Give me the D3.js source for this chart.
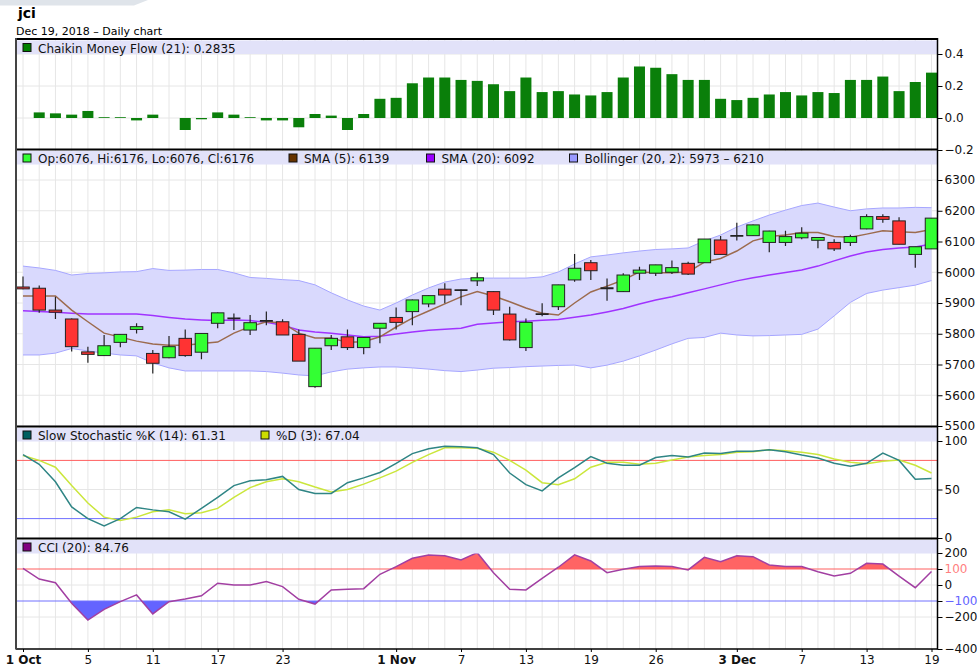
<!DOCTYPE html>
<html>
<head>
<meta charset="utf-8">
<script src="https://cdn.jsdelivr.net/npm/d3@7"></script>
<style>
  body { margin: 0; background: #fff; }
  svg { display: block; font-family: 'DejaVu Sans', sans-serif; }
</style>
</head>
<body>
<script>
// ---- data ----
const dates = ['2018-10-01','2018-10-02','2018-10-03','2018-10-04','2018-10-05','2018-10-08','2018-10-09','2018-10-10','2018-10-11','2018-10-12',
  '2018-10-15','2018-10-16','2018-10-17','2018-10-18','2018-10-19','2018-10-22','2018-10-23','2018-10-24','2018-10-25','2018-10-26',
  '2018-10-29','2018-10-30','2018-10-31','2018-11-01','2018-11-02','2018-11-05','2018-11-06','2018-11-07','2018-11-08','2018-11-09',
  '2018-11-12','2018-11-13','2018-11-14','2018-11-15','2018-11-16','2018-11-19','2018-11-21','2018-11-22','2018-11-23','2018-11-26',
  '2018-11-27','2018-11-28','2018-11-29','2018-11-30','2018-12-03','2018-12-04','2018-12-05','2018-12-06','2018-12-07','2018-12-10',
  '2018-12-11','2018-12-12','2018-12-13','2018-12-14','2018-12-17','2018-12-18','2018-12-19']

const open = [5952,5948,5877,5848,5741,5729,5772,5814,5736,5722,5785,5740,5834,5850,5812,5842,5839,5798,5628,5761,
  5790,5755,5818,5853,5872,5897,5945,5942,5972,5937,5864,5755,5864,5888,5975,6031,5948,5937,5997,5997,
  6000,6029,6031,6105,6118,6119,6097,6097,6112,6104,6097,6097,6141,6181,6167,6058,6076]
const high = [5986,5957,5920,5850,5758,5796,5798,5834,5747,5793,5814,5801,5869,5866,5861,5872,5847,5814,5753,5796,
  5814,5789,5835,5885,5911,5925,5964,5944,5999,5938,5888,5850,5899,5959,6059,6040,5980,5997,6018,6024,
  6038,6034,6108,6118,6161,6155,6135,6135,6146,6114,6107,6122,6189,6189,6179,6083,6176]
const low = [5945,5868,5848,5742,5706,5728,5756,5801,5671,5720,5725,5717,5818,5812,5796,5828,5796,5711,5624,5747,
  5747,5733,5769,5814,5828,5886,5899,5893,5955,5861,5778,5744,5857,5877,5969,5975,5907,5936,5975,5988,
  5994,5991,6030,6057,6103,6118,6065,6085,6107,6078,6069,6085,6140,6161,6091,6015,6076]
const close = [5946,5877,5870,5758,5733,5761,5798,5823,5704,5758,5729,5801,5868,5850,5836,5842,5796,5711,5753,5785,
  5755,5788,5834,5837,5910,5924,5926,5942,5982,5877,5780,5837,5864,5959,6013,6005,5948,5991,6007,6024,
  6015,5994,6108,6058,6118,6154,6134,6116,6127,6113,6076,6116,6181,6172,6091,6083,6176]

const sma5 = [5923,5923,5923,5877,5839,5802,5789,5776,5767,5763,5763,5768,5773,5802,5823,5839,5835,5802,5786,5786,
  5772,5774,5790,5822,5851,5874,5897,5920,5937,5923,5904,5884,5867,5861,5900,5936,5955,5975,6001,5998,
  5998,6001,6033,6045,6069,6102,6116,6121,6129,6129,6116,6114,6124,6135,6132,6129,6139]
const sma20 = [5875,5872,5870,5867,5864,5864,5864,5864,5859,5853,5848,5845,5843,5845,5843,5837,5828,5812,5806,5802,
  5796,5790,5792,5799,5806,5811,5815,5818,5831,5835,5839,5841,5844,5846,5854,5861,5871,5882,5897,5910,
  5920,5933,5946,5959,5972,5982,5991,5999,6007,6020,6037,6053,6066,6074,6079,6082,6092]
const bbUpper = [6020,6014,6006,5991,5996,5998,6001,6002,6012,6006,6007,6009,6009,5998,5983,5980,5976,5973,5959,5933,
  5910,5890,5877,5900,5926,5949,5968,5978,5981,5981,5981,5981,5985,6001,6027,6050,6056,6063,6069,6074,
  6076,6079,6102,6121,6147,6167,6186,6202,6217,6225,6212,6200,6206,6209,6209,6211,6210]
const bbLower = [5731,5731,5737,5752,5744,5737,5731,5728,5705,5689,5679,5679,5679,5679,5679,5677,5672,5666,5663,5676,
  5685,5689,5692,5692,5689,5685,5680,5677,5682,5688,5690,5693,5695,5697,5698,5689,5698,5711,5728,5747,
  5767,5785,5788,5802,5796,5793,5794,5796,5798,5815,5858,5902,5931,5942,5950,5958,5973]

const cmf = [0,0.035,0.029,0.021,0.044,0.005,0.005,-0.015,0.021,0,-0.075,-0.008,0.035,0.021,0.005,-0.015,-0.015,-0.058,0.025,0.015,
  -0.075,0.025,0.12,0.126,0.217,0.253,0.253,0.238,0.232,0.211,0.168,0.253,0.162,0.168,0.147,0.141,0.162,0.253,0.322,0.314,
  0.274,0.238,0.238,0.12,0.112,0.126,0.147,0.162,0.141,0.162,0.156,0.238,0.238,0.259,0.168,0.225,0.2835]

const stochK = [86,76,58,32,20,12.5,20,31.5,29,27,19.5,30.5,42,54,59,60,63.5,50,46,46,
  57,62,67.5,77,87,92,94.5,94,93,86,67,55,48.5,62,72.5,84,77,75,75,83,
  85,83.5,87.5,87,89.5,89.5,91,89,85.5,82.5,77,74,77,87.5,80,60.5,61.31]
const stochD = [85,80,73,54,36,21.5,18,21.5,27,29,25,26,30.5,42,52,58,61,58,52.5,47.5,
  50,55.5,62,69,78,86,93,93,92.5,88.5,80,70,57,55,61,73,78,78,76,77,
  80.5,83.5,85,86,88.5,89,91,90,88.5,86,81.5,78,76.5,79,80.5,75,67.04]

const cci = [104,37,14,-114,-219,-152,-104,-62,-181,-104,-87,-67,11,0,0,21,-10,-89,-119,-31,
  -27,-23,67,115,167,188,183,156,202,77,-27,-31,42,111,188,150,77,98,115,119,
  115,94,173,146,183,177,125,115,115,83,56,73,136,131,56,-17,84.76]

const cmfTicks = [0.4, 0.2, 0.0, -0.2]
const priceTicks = [6300, 6200, 6100, 6000, 5900, 5800, 5700, 5600, 5500]
const stochTicks = [100, 50, 0]
const cciTicks = [200, 100, 0, -100, -200, -400]
const xTickDates = ['2018-10-01','2018-10-05','2018-10-11','2018-10-17','2018-10-23','2018-11-01','2018-11-07',
  '2018-11-13','2018-11-19','2018-11-26','2018-12-03','2018-12-07','2018-12-13','2018-12-19']
const xTickLabels = ['1 Oct','5','11','17','23','1 Nov','7','13','19','26','3 Dec','7','13','19']

// ---- layout ----
const W = 977, H = 666
const left = 16, right = 937.5

const svg = d3.select('body').append('svg')
  .attr('width', W)
  .attr('height', H)

svg.append('rect').attr('width', W).attr('height', H).attr('fill', '#fff')
svg.append('path').attr('d', 'M0,0H148L134,5.5H0Z').attr('fill', '#dfe4ea')

svg.append('text')
  .attr('x', 18).attr('y', 17.5)
  .attr('font-size', 14).attr('font-weight', 'bold')
  .text('jci')
svg.append('text')
  .attr('x', 16).attr('y', 34.5)
  .attr('font-size', 11)
  .text('Dec 19, 2018 \u2013 Daily chart')

const x = d3.scalePoint().domain(dates).range([23, 931.5])

const yCmf = d3.scaleLinear().domain([-0.2, 0.4]).range([150, 54])
const yPrice = d3.scaleLinear().domain([5500, 6300]).range([426, 180])
const yStoch = d3.scaleLinear().domain([0, 100]).range([538, 441])
const yCci = d3.scaleLinear().domain([-400, 200]).range([649, 553])

const panels = {
  cmf: { top: 39, bottom: 149.5 },
  price: { top: 149.5, bottom: 426.5 },
  stoch: { top: 426.5, bottom: 538.5 },
  cci: { top: 538.5, bottom: 649 }
}

const defs = svg.append('defs')
function clip (id, y0, y1) {
  defs.append('clipPath').attr('id', id)
    .append('rect')
      .attr('x', left).attr('y', y0)
      .attr('width', right - left).attr('height', y1 - y0)
  return `url(#${id})`
}

function panelGroup (key, y, gridVals) {
  const p = panels[key]
  const g = svg.append('g').attr('clip-path', clip('clip-' + key, p.top, p.bottom))
  g.selectAll('line.vg')
    .data(dates)
    .join('line')
      .attr('x1', d => x(d)).attr('x2', d => x(d))
      .attr('y1', p.top).attr('y2', p.bottom)
      .attr('stroke', '#e6e6e6')
  g.selectAll('line.hg')
    .data(gridVals)
    .join('line')
      .attr('x1', left).attr('x2', right)
      .attr('y1', d => y(d)).attr('y2', d => y(d))
      .attr('stroke', '#e6e6e6')
  return g
}

const lineOf = (arr, y) => d3.line()
  .x((d, i) => x(dates[i]))
  .y(d => y(d))(arr)

// ---- Chaikin Money Flow ----
const gC = panelGroup('cmf', yCmf, [0.4, 0.2, 0.0])
gC.selectAll('rect.bar')
  .data(cmf)
  .join('rect')
    .attr('x', (d, i) => x(dates[i]) - 5.5)
    .attr('width', 11)
    .attr('y', d => yCmf(Math.max(0, d)))
    .attr('height', d => Math.abs(yCmf(d) - yCmf(0)))
    .attr('fill', '#0a7f0a')

// ---- price ----
const gP = panelGroup('price', yPrice, priceTicks)
const band = d3.area()
  .x((d, i) => x(dates[i]))
  .y0((d, i) => yPrice(bbLower[i]))
  .y1(d => yPrice(d))
gP.append('path').datum(bbUpper).attr('d', band).attr('fill', '#d9d9fd')
gP.append('path').attr('d', lineOf(bbUpper, yPrice)).attr('fill', 'none').attr('stroke', '#a6a6ff')
gP.append('path').attr('d', lineOf(bbLower, yPrice)).attr('fill', 'none').attr('stroke', '#a6a6ff')
gP.append('path').attr('d', lineOf(sma20, yPrice)).attr('fill', 'none').attr('stroke', '#a033ff').attr('stroke-width', 1.5)
gP.append('path').attr('d', lineOf(sma5, yPrice)).attr('fill', 'none').attr('stroke', '#9c6b4e').attr('stroke-width', 1.5)

const candles = gP.selectAll('g.candle')
  .data(dates.map((d, i) => ({ d, o: open[i], h: high[i], l: low[i], c: close[i] })))
  .join('g')
candles.append('line')
  .attr('x1', d => x(d.d)).attr('x2', d => x(d.d))
  .attr('y1', d => yPrice(d.h)).attr('y2', d => yPrice(d.l))
  .attr('stroke', '#222').attr('stroke-width', 1.2)
candles.filter(d => d.o !== d.c).append('rect')
  .attr('x', d => x(d.d) - 6.25)
  .attr('width', 12.5)
  .attr('y', d => yPrice(Math.max(d.o, d.c)))
  .attr('height', d => Math.max(1.5, Math.abs(yPrice(d.o) - yPrice(d.c))))
  .attr('fill', d => d.c > d.o ? '#33ff33' : '#ff3333')
  .attr('stroke', '#222')
candles.filter(d => d.o === d.c).append('line')
  .attr('x1', d => x(d.d) - 6.5).attr('x2', d => x(d.d) + 6.5)
  .attr('y1', d => yPrice(d.o)).attr('y2', d => yPrice(d.o))
  .attr('stroke', '#222').attr('stroke-width', 1.8)

// ---- slow stochastic ----
const gS = panelGroup('stoch', yStoch, [50])
gS.append('line').attr('x1', left).attr('x2', right).attr('y1', yStoch(80)).attr('y2', yStoch(80)).attr('stroke', '#ff5f5f')
gS.append('line').attr('x1', left).attr('x2', right).attr('y1', yStoch(20)).attr('y2', yStoch(20)).attr('stroke', '#7070ff')
gS.append('path').attr('d', lineOf(stochD, yStoch)).attr('fill', 'none').attr('stroke', '#cbe63c').attr('stroke-width', 1.5)
gS.append('path').attr('d', lineOf(stochK, yStoch)).attr('fill', 'none').attr('stroke', '#2f8585').attr('stroke-width', 1.5)

// ---- CCI ----
const gI = panelGroup('cci', yCci, [0, -200])
const up = clip('cci-up', panels.cci.top, yCci(100))
const dn = clip('cci-dn', yCci(-100), panels.cci.bottom)
gI.append('path').datum(cci)
  .attr('d', d3.area().x((d, i) => x(dates[i])).y0(yCci(100)).y1(d => yCci(d)))
  .attr('fill', '#ff6464').attr('clip-path', up)
gI.append('path').datum(cci)
  .attr('d', d3.area().x((d, i) => x(dates[i])).y0(yCci(-100)).y1(d => yCci(d)))
  .attr('fill', '#6464ff').attr('clip-path', dn)
gI.append('line').attr('x1', left).attr('x2', right).attr('y1', yCci(100)).attr('y2', yCci(100)).attr('stroke', '#ff5f5f')
gI.append('line').attr('x1', left).attr('x2', right).attr('y1', yCci(-100)).attr('y2', yCci(-100)).attr('stroke', '#7070ff')
gI.append('path').attr('d', lineOf(cci, yCci)).attr('fill', 'none').attr('stroke', '#a23fa2').attr('stroke-width', 1.5)

// ---- header bands + legends ----
function legend (key, items) {
  const top = panels[key].top
  svg.append('rect')
    .attr('x', left + 1).attr('y', top + 1.5)
    .attr('width', right - left - 1.5).attr('height', 13.5)
    .attr('fill', '#e2e2f9')
  items.forEach(it => {
    svg.append('rect')
      .attr('x', it.x).attr('y', top + 4.5)
      .attr('width', 8).attr('height', 8)
      .attr('fill', it.color).attr('stroke', '#111')
    svg.append('text')
      .attr('x', it.x + 15).attr('y', top + 13.5)
      .attr('font-size', 12).attr('fill', '#111')
      .text(it.text)
  })
}
legend('cmf', [{ x: 23, color: '#008000', text: 'Chaikin Money Flow (21): 0.2835' }])
legend('price', [
  { x: 23, color: '#33ff33', text: 'Op:6076, Hi:6176, Lo:6076, Cl:6176' },
  { x: 289, color: '#663300', text: 'SMA (5): 6139' },
  { x: 426.5, color: '#9900ff', text: 'SMA (20): 6092' },
  { x: 569.5, color: '#9999ff', text: 'Bollinger (20, 2): 5973 \u2013 6210' }
])
legend('stoch', [
  { x: 23, color: '#005f5f', text: 'Slow Stochastic %K (14): 61.31' },
  { x: 261, color: '#ccdd00', text: '%D (3): 67.04' }
])
legend('cci', [{ x: 23, color: '#800080', text: 'CCI (20): 84.76' }])

// ---- frame ----
;[panels.cmf.top, panels.price.top, panels.stoch.top, panels.cci.top].forEach(y => {
  svg.append('line').attr('x1', left).attr('x2', right).attr('y1', y).attr('y2', y)
    .attr('stroke', '#000').attr('stroke-width', 2)
})
svg.append('line').attr('x1', left).attr('x2', right).attr('y1', 649).attr('y2', 649)
  .attr('stroke', '#000').attr('stroke-width', 1.5)
svg.append('line').attr('x1', left).attr('x2', left).attr('y1', 38).attr('y2', 649.5)
  .attr('stroke', '#444').attr('stroke-width', 2)
svg.append('line').attr('x1', right).attr('x2', right).attr('y1', 38).attr('y2', 649.5)
  .attr('stroke', '#000').attr('stroke-width', 1.5)

// ---- axes ----
function rightAxis (y, ticks, fmt, color) {
  const g = svg.append('g')
    .attr('transform', `translate(${right}, 0)`)
    .call(d3.axisRight(y).tickValues(ticks).tickSize(5).tickPadding(2).tickFormat(fmt))
  g.select('.domain').remove()
  g.attr('font-family', null).attr('font-size', null)
  g.selectAll('text').attr('font-size', 12).attr('fill', d => color ? color(d) : '#111')
  g.selectAll('line').attr('stroke', '#000')
}
rightAxis(yCmf, cmfTicks, d3.format('.1f'))
rightAxis(yPrice, priceTicks, d3.format('d'))
rightAxis(yStoch, stochTicks, d3.format('d'))
rightAxis(yCci, cciTicks, d3.format('d'), d => d === 100 ? '#ff7f7f' : d === -100 ? '#6464ff' : '#111')

const xa = svg.append('g')
  .attr('transform', 'translate(0, 649)')
  .call(d3.axisBottom(x).tickValues(xTickDates).tickSize(3).tickFormat((d, i) => xTickLabels[i]))
xa.select('.domain').remove()
xa.attr('font-family', null).attr('font-size', null)
xa.selectAll('text')
  .attr('font-size', 12).attr('fill', '#111')
  .attr('font-weight', (d, i) => xTickLabels[i].includes(' ') ? 'bold' : 'normal')
</script>
</body>
</html>
